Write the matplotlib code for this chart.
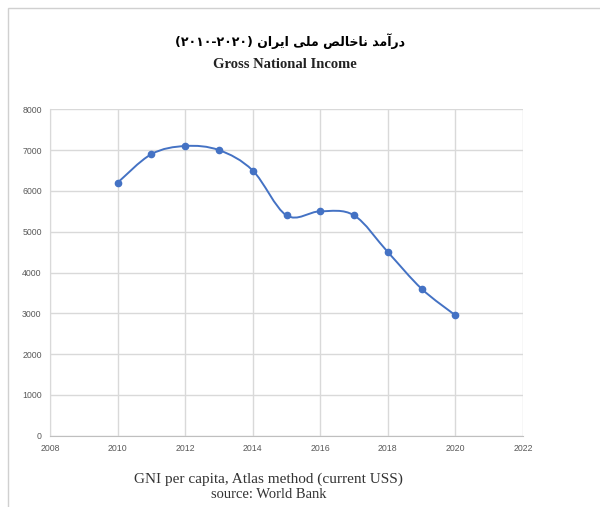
import numpy as np
import matplotlib
matplotlib.use('Agg')
import matplotlib.pyplot as plt
from matplotlib.path import Path
from matplotlib.patches import PathPatch, Rectangle

years = [2010, 2011, 2012, 2013, 2014, 2015, 2016, 2017, 2018, 2019, 2020]
gni = [6200, 6900, 7100, 7000, 6500, 5400, 5500, 5400, 4500, 3600, 2950]
x_ticks = [2008, 2010, 2012, 2014, 2016, 2018, 2020, 2022]
y_ticks = [0, 1000, 2000, 3000, 4000, 5000, 6000, 7000, 8000]

title_fa = 'درآمد ناخالص ملی ایران'
title_years = '(۲۰۱۰-۲۰۲۰)'
subtitle = 'Gross National Income'
note1 = 'GNI per capita, Atlas method (current USS)'
note2 = 'source: World Bank'

# presentation forms: isolated, final, initial, medial
forms = {
    'ا': ('\uFE8D', '\uFE8E', None, None),
    'آ': ('\uFE81', '\uFE82', None, None),
    'د': ('\uFEA9', '\uFEAA', None, None),
    'ر': ('\uFEAD', '\uFEAE', None, None),
    'م': ('\uFEE1', '\uFEE2', '\uFEE3', '\uFEE4'),
    'ن': ('\uFEE5', '\uFEE6', '\uFEE7', '\uFEE8'),
    'خ': ('\uFEA5', '\uFEA6', '\uFEA7', '\uFEA8'),
    'ل': ('\uFEDD', '\uFEDE', '\uFEDF', '\uFEE0'),
    'ص': ('\uFEB9', '\uFEBA', '\uFEBB', '\uFEBC'),
    'ی': ('\uFBFC', '\uFBFD', '\uFBFE', '\uFBFF'),
}


def shape(text):
    # join letters and reverse to visual order (matplotlib has no bidi)
    out = []
    for i, ch in enumerate(text):
        if ch not in forms:
            out.append(ch)
            continue
        prev = text[i - 1] if i > 0 else ' '
        nxt = text[i + 1] if i + 1 < len(text) else ' '
        join_prev = prev in forms and forms[prev][2] is not None
        join_next = nxt in forms and forms[ch][2] is not None
        iso, fin, ini, med = forms[ch]
        if join_prev and join_next:
            out.append(med)
        elif join_prev:
            out.append(fin)
        elif join_next:
            out.append(ini)
        else:
            out.append(iso)
    return ''.join(out)[::-1]


fig = plt.figure(figsize=(6, 5.07), dpi=100)
ax = fig.add_axes([50/600, 1 - 435.7/507, 473/600, 326.4/507])

# smoothed line like excel (bezier through the points)
verts = [(years[0], gni[0])]
codes = [Path.MOVETO]
n = len(years)
for i in range(n - 1):
    p0 = np.array([years[max(i - 1, 0)], gni[max(i - 1, 0)]], float)
    p1 = np.array([years[i], gni[i]], float)
    p2 = np.array([years[i + 1], gni[i + 1]], float)
    p3 = np.array([years[min(i + 2, n - 1)], gni[min(i + 2, n - 1)]], float)
    c1 = p1 + (p2 - p0) / 6
    c2 = p2 - (p3 - p1) / 6
    verts += [tuple(c1), tuple(c2), tuple(p2)]
    codes += [Path.CURVE4] * 3
ax.add_patch(PathPatch(Path(verts, codes), facecolor='none', edgecolor='#4472C4', lw=1.4, zorder=3))
ax.plot(years, gni, 'o', color='#4472C4', ms=4.5, zorder=4)

ax.set_xlim(2008, 2022)
ax.set_ylim(0, 8000)
ax.set_xticks(x_ticks)
ax.set_yticks(y_ticks)
ax.grid(True, color='#d9d9d9', lw=1)
ax.set_axisbelow(True)
for s in ['top', 'right']:
    ax.spines[s].set_visible(False)
ax.spines['left'].set_color('#d9d9d9')
ax.spines['bottom'].set_color('#bfbfbf')
ax.tick_params(length=0, labelsize=6.3, labelcolor='#595959', pad=6)
for lab in ax.get_xticklabels() + ax.get_yticklabels():
    lab.set_family('Liberation Sans')

# page frame
fig.add_artist(Rectangle((8/600, -0.1), 1.2, 1 - 7.5/507 + 0.1, transform=fig.transFigure,
                         fill=False, edgecolor='#d0d0d0', lw=1))

fig.text(290/600, 1 - 41/507, title_years + ' ' + shape(title_fa), ha='center', va='center',
         family=['DejaVu Sans'], fontweight='bold', fontsize=9)
fig.text(285/600, 1 - 65/507, subtitle, ha='center', va='center',
         family='Liberation Serif', fontweight='bold', fontsize=10.5, color='#222222')
fig.text(268/600, 1 - 479/507, note1, ha='center', va='center',
         family='Liberation Serif', fontsize=11, color='#333333')
fig.text(269/600, 1 - 495/507, note2, ha='center', va='center',
         family='Liberation Serif', fontsize=10.5, color='#333333')

fig.savefig('out.png', dpi=100)
